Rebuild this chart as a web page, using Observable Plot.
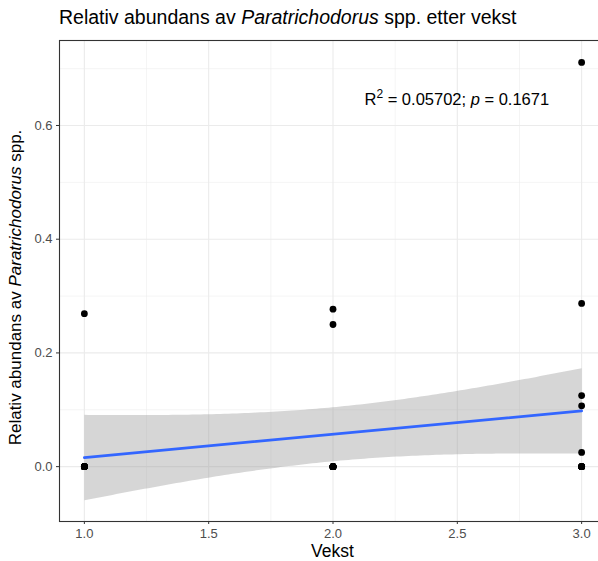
<!DOCTYPE html>
<html>
<head>
<meta charset="utf-8">
<script src="https://cdn.jsdelivr.net/npm/d3@7"></script>
<script src="https://cdn.jsdelivr.net/npm/@observablehq/plot@0.6"></script>
<style>
  html, body { margin: 0; padding: 0; background: #fff; overflow: hidden; }
  body { font-family: "Liberation Sans", Arial, Helvetica, sans-serif; width: 598px; }
  #title { height: 34px; box-sizing: border-box; padding-left: 59px; padding-top: 7px;
           font-size: 19.5px; line-height: 20px; color: #000; white-space: nowrap; }
</style>
</head>
<body>
<div id="title">Relativ abundans av <i>Paratrichodorus</i> spp. etter vekst</div>
<div id="chart"></div>
<script>
const vekstLevels = [1, 2, 3];
const abundansVekst1 = [0.269, 0, 0, 0, 0, 0, 0, 0, 0, 0, 0, 0];
const abundansVekst2 = [0.277, 0.250, 0, 0, 0, 0, 0, 0, 0, 0, 0, 0];
const abundansVekst3 = [0.711, 0.287, 0.125, 0.107, 0.025, 0, 0, 0, 0, 0, 0, 0];

const xTicks = [1.0, 1.5, 2.0, 2.5, 3.0];
const xMinor = [1.25, 1.75, 2.25, 2.75];
const yTicks = [0.0, 0.2, 0.4, 0.6];
const yMinor = [0.1, 0.3, 0.5, 0.7];

const titleText = "Relativ abundans av Paratrichodorus spp. etter vekst";
const xLabel = "Vekst";
const yLabelParts = ["Relativ abundans av ", "Paratrichodorus", " spp."];
const annR2 = "0.05702";
const annP = "0.1671";
const annX = 2.5, annY = 0.65;

const groups = [abundansVekst1, abundansVekst2, abundansVekst3];
const data = [];
groups.forEach((arr, i) => arr.forEach(v => data.push({vekst: vekstLevels[i], abundans: v})));

const FONT = '"Liberation Sans", Arial, Helvetica, sans-serif';

const chart = Plot.plot({
  width: 598,
  height: 527,
  marginTop: 6,
  marginBottom: 40,
  marginLeft: 59,
  marginRight: -8,
  style: { fontFamily: FONT, fontSize: "13px", background: "white", overflow: "visible" },
  x: { domain: [0.9, 3.1] },
  y: { domain: [-0.0965, 0.7495] },
  marks: [
    Plot.gridX(xMinor, { stroke: "#EBEBEB", strokeOpacity: 1, strokeWidth: 0.55 }),
    Plot.gridY(yMinor, { stroke: "#EBEBEB", strokeOpacity: 1, strokeWidth: 0.55 }),
    Plot.gridX(xTicks, { stroke: "#EBEBEB", strokeOpacity: 1, strokeWidth: 1.1 }),
    Plot.gridY(yTicks, { stroke: "#EBEBEB", strokeOpacity: 1, strokeWidth: 1.1 }),
    Plot.linearRegressionY(data, {
      x: "vekst", y: "abundans",
      stroke: "#3366FF", strokeWidth: 2.7,
      fill: "#999999", fillOpacity: 0.4, ci: 0.95
    }),
    Plot.dot(data, { x: "vekst", y: "abundans", r: 3.4, fill: "black", stroke: "none" }),
    Plot.frame({ stroke: "#333333", strokeWidth: 1.1 }),
    Plot.axisX(xTicks, {
      tickFormat: d3.format(".1f"), tickSize: 3, tickPadding: 4,
      color: "#4D4D4D", stroke: "#333333", label: null, fontSize: 13
    }),
    Plot.axisY(yTicks, {
      tickFormat: d3.format(".1f"), tickSize: 3, tickPadding: 4,
      color: "#4D4D4D", stroke: "#333333", label: null, fontSize: 13
    })
  ]
});
document.getElementById("chart").appendChild(chart);

const svg = d3.select(chart);
const xs = chart.scale("x"), ys = chart.scale("y");

// x axis title
svg.append("text")
  .attr("x", (xs.range[0] + xs.range[1]) / 2)
  .attr("y", 523)
  .attr("text-anchor", "middle")
  .attr("font-family", FONT)
  .attr("font-size", 17.5)
  .attr("fill", "black")
  .text(xLabel);

// y axis title (with italic genus name)
const yMid = (ys.range[0] + ys.range[1]) / 2;
const yl = svg.append("text")
  .attr("transform", `translate(21,${yMid + 7}) rotate(-90)`)
  .attr("text-anchor", "middle")
  .attr("font-family", FONT)
  .attr("font-size", 17)
  .attr("fill", "black");
yl.append("tspan").text(yLabelParts[0]);
yl.append("tspan").attr("font-style", "italic").text(yLabelParts[1]);
yl.append("tspan").text(yLabelParts[2]);

// annotation R^2 and p
const ann = svg.append("text")
  .attr("x", xs.apply(annX))
  .attr("y", ys.apply(annY) + 8.5)
  .attr("text-anchor", "middle")
  .attr("font-family", FONT)
  .attr("font-size", 16.5)
  .attr("fill", "black");
ann.append("tspan").text("R");
ann.append("tspan").attr("font-size", 12).attr("dy", -7).text("2");
ann.append("tspan").attr("dy", 7).text(" = " + annR2 + "; ");
ann.append("tspan").attr("font-style", "italic").text("p");
ann.append("tspan").text(" = " + annP);
</script>
</body>
</html>
